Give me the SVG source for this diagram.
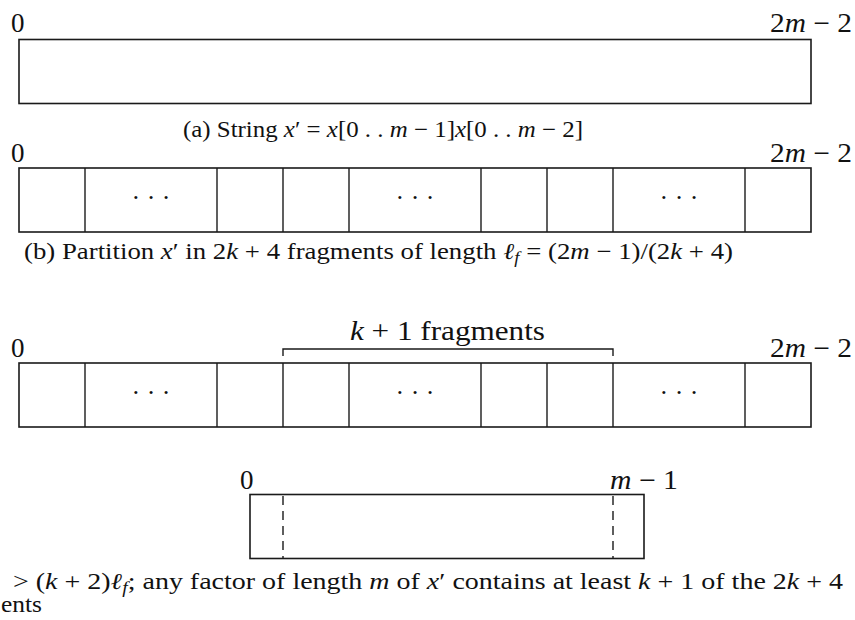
<svg xmlns="http://www.w3.org/2000/svg" width="855" height="620" viewBox="0 0 855 620">
<style>
  .box { fill: none; stroke: #1a1a1a; stroke-width: 1.6; }
  .div { fill: none; stroke: #1a1a1a; stroke-width: 1.4; }
  .dash { fill: none; stroke: #1a1a1a; stroke-width: 1.4; stroke-dasharray: 9 6; }
  .lbl { font-family: "Liberation Serif", "Times New Roman", "DejaVu Serif", serif; font-size: 27px; fill: #111; }
  .cap { font-family: "Liberation Serif", "Times New Roman", "DejaVu Serif", serif; font-size: 23px; fill: #111; }
  .dots { font-family: "Liberation Serif", "Times New Roman", "DejaVu Serif", serif; font-size: 26px; fill: #111; text-anchor: middle; }
  .i { font-style: italic; }
  .sub { font-size: 16px; font-style: italic; }
</style>
<defs>
  <g id="cells">
    <line class="div" x1="85" y1="0" x2="85" y2="64"/>
    <line class="div" x1="217" y1="0" x2="217" y2="64"/>
    <line class="div" x1="283" y1="0" x2="283" y2="64"/>
    <line class="div" x1="349" y1="0" x2="349" y2="64"/>
    <line class="div" x1="481" y1="0" x2="481" y2="64"/>
    <line class="div" x1="547" y1="0" x2="547" y2="64"/>
    <line class="div" x1="613" y1="0" x2="613" y2="64"/>
    <line class="div" x1="745" y1="0" x2="745" y2="64"/>
    <rect class="box" x="19" y="0" width="792" height="64"/>
    <text class="dots" x="151" y="38">· · ·</text>
    <text class="dots" x="415" y="38">· · ·</text>
    <text class="dots" x="679" y="38">· · ·</text>
  </g>
</defs>

<g id="row-a">
  <text class="lbl" x="11" y="32">0</text>
  <text class="lbl" x="770" y="32" textLength="82" lengthAdjust="spacingAndGlyphs">2<tspan class="i">m</tspan> − 2</text>
  <rect class="box" x="19" y="39.5" width="792" height="64"/>
  <text class="cap" x="183" y="137" textLength="400" lengthAdjust="spacingAndGlyphs">(a) String <tspan class="i">x</tspan>′ = <tspan class="i">x</tspan>[0 . . <tspan class="i">m</tspan> − 1]<tspan class="i">x</tspan>[0 . . <tspan class="i">m</tspan> − 2]</text>
</g>

<g id="row-b">
  <text class="lbl" x="11" y="162">0</text>
  <text class="lbl" x="770" y="162" textLength="82" lengthAdjust="spacingAndGlyphs">2<tspan class="i">m</tspan> − 2</text>
  <use href="#cells" x="0" y="168"/>
  <text class="cap" x="24" y="259" textLength="709" lengthAdjust="spacingAndGlyphs">(b) Partition <tspan class="i">x</tspan>′ in 2<tspan class="i">k</tspan> + 4 fragments of length <tspan class="i">ℓ</tspan><tspan class="sub" dy="4">f</tspan><tspan dy="-4"> = (2</tspan><tspan class="i">m</tspan> − 1)/(2<tspan class="i">k</tspan> + 4)</text>
</g>

<g id="row-c">
  <text class="lbl" x="350" y="340" textLength="195" lengthAdjust="spacingAndGlyphs"><tspan class="i">k</tspan> + 1 fragments</text>
  <text class="lbl" x="11" y="357">0</text>
  <text class="lbl" x="770" y="357" textLength="82" lengthAdjust="spacingAndGlyphs">2<tspan class="i">m</tspan> − 2</text>
  <use href="#cells" x="0" y="363"/>
</g>

<g id="connectors">
  <path class="div" d="M283,356 V349 H613 V356"/>
</g>

<g id="row-d">
  <text class="lbl" x="240" y="489">0</text>
  <text class="lbl" x="610" y="489" textLength="68" lengthAdjust="spacingAndGlyphs"><tspan class="i">m</tspan> − 1</text>
  <rect class="box" x="250" y="494.5" width="394" height="64"/>
  <line class="dash" x1="283" y1="496" x2="283" y2="558.5"/>
  <line class="dash" x1="613" y1="496" x2="613" y2="558.5"/>
  <text class="cap" x="13" y="589" textLength="830" lengthAdjust="spacingAndGlyphs">&gt; (<tspan class="i">k</tspan> + 2)<tspan class="i">ℓ</tspan><tspan class="sub" dy="4">f</tspan><tspan dy="-4">; any factor of length </tspan><tspan class="i">m</tspan> of <tspan class="i">x</tspan>′ contains at least <tspan class="i">k</tspan> + 1 of the 2<tspan class="i">k</tspan> + 4</text>
  <text class="cap" x="1" y="612" textLength="41" lengthAdjust="spacingAndGlyphs">ents</text>
</g>
</svg>
